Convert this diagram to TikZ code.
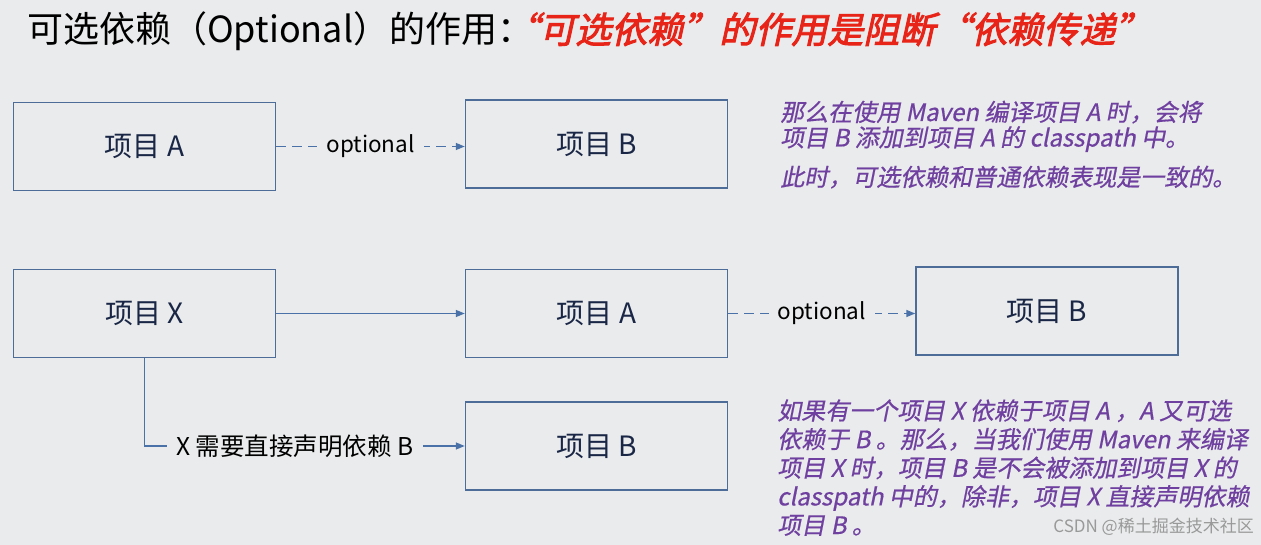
\documentclass[tikz,border=0pt]{standalone}
\usepackage{fontspec}
\setmainfont{Noto Sans CJK SC}
\newfontfamily\slfont{Noto Sans CJK SC}[FakeSlant=0.2,FakeBold=0.6]
\newfontfamily\redfont{Noto Sans CJK SC}[FakeBold=2.5,FakeSlant=0.22]
\usetikzlibrary{arrows.meta}
\definecolor{bg}{RGB}{233,235,236}
\definecolor{boxc}{RGB}{78,108,152}
\definecolor{arr}{RGB}{74,114,168}
\definecolor{boxtext}{RGB}{26,38,70}
\definecolor{purp}{RGB}{112,64,160}
\definecolor{redt}{RGB}{232,36,24}
\tikzset{
  box/.style={draw=boxc, line width=1.5pt, minimum width=262pt, minimum height=88pt,
    font=\fontsize{28}{32}\selectfont, text=boxtext, inner sep=0pt},
  conn/.style={draw=arr, line width=1.5pt},
  tip/.style={-{Triangle[length=9pt,width=7pt]}},
  dashconn/.style={conn, tip, dash pattern=on 10pt off 6pt},
  lab/.style={fill=bg, font=\fontsize{22.5}{26}\selectfont, text=black, inner xsep=9pt, inner ysep=2pt},
  note/.style={anchor=base west, align=left, text=purp, inner sep=0pt}
}
\begin{document}
\begin{tikzpicture}[x=1pt,y=-1pt]
\fill[bg] (0,0) rectangle (1261,545);
\useasboundingbox (0,0) rectangle (1261,545);

\node[anchor=base west, inner sep=0pt, font=\fontsize{36}{40}\selectfont] (title) at (27,43)
  {可选依赖（Optional）的作用：\hspace{-30pt}{\redfont\fontsize{36}{40}\selectfont\color{redt}“可选依赖”的作用是阻断“依赖传递”}};

\node[box] (a1) at (144.5,146.5) {项目 A};
\node[box] (b1) at (596.5,144) {项目 B};
\node[box] (x) at (144.5,313.5) {项目 X};
\node[box] (a2) at (596.5,313.5) {项目 A};
\node[box] (b2) at (1047,311) {项目 B};
\node[box] (b3) at (596.5,446) {项目 B};

\draw[dashconn] (a1.east) -- node[lab]{optional} (a1.east -| b1.west);
\draw[conn, tip] (x.east) -- (x.east -| a2.west);
\draw[dashconn] (a2.east) -- node[lab]{optional} (a2.east -| b2.west);

\node[lab, font=\fontsize{24.5}{28}\selectfont] (need) at (295,446) {X 需要直接声明依赖 B};
\draw[conn] (x.south) |- (need.west);
\draw[conn, tip] (need.east) -- (b3.west);

\node[note, font=\slfont\fontsize{24}{25.5}\selectfont] (n1) at (780,146.5)
  {那么在使用 Maven 编译项目 A 时，会将\\项目 B 添加到项目 A 的 classpath 中。};
\node[note, font=\slfont\fontsize{24}{25}\selectfont] (n2) at (780,186)
  {此时，可选依赖和普通依赖表现是一致的。};
\node[note, font=\slfont\fontsize{24}{28.6}\selectfont] (n3) at (777,534)
  {如果有一个项目 X 依赖于项目 A ，A 又可选\\依赖于 B 。那么，当我们使用 Maven 来编译\\项目 X 时，项目 B 是不会被添加到项目 X 的\\classpath 中的，除非，项目 X 直接声明依赖\\项目 B 。};

\node[anchor=base east, inner sep=0pt, text=black!40, font=\fontsize{17}{20}\selectfont] (wm) at (1254,532)
  {CSDN @稀土掘金技术社区};
\end{tikzpicture}
\end{document}
